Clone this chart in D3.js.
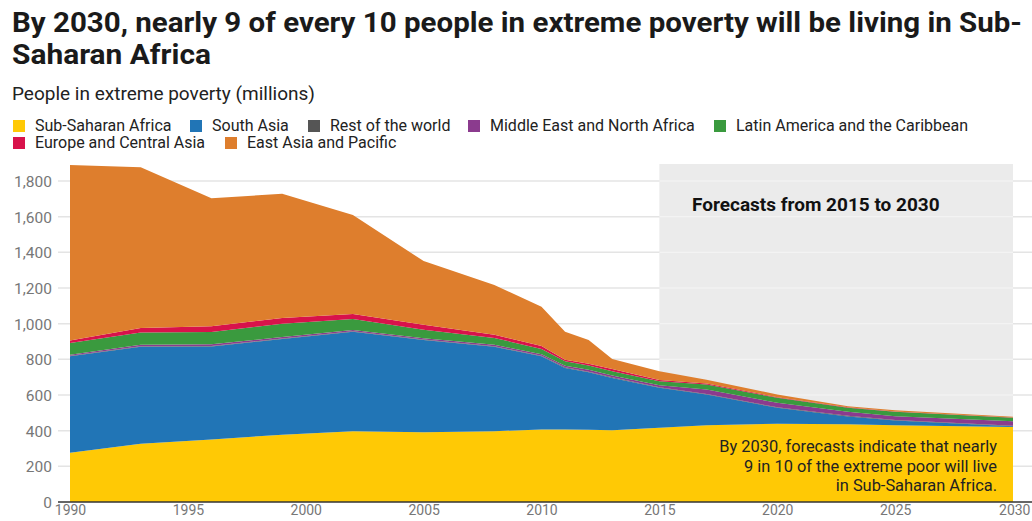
<!DOCTYPE html>
<html>
<head>
<meta charset="utf-8">
<script src="https://cdn.jsdelivr.net/npm/d3@7"></script>
<style>
  body { margin: 0; background: #fff; }
  svg { display: block; font-family: Roboto, "Noto Sans", sans-serif; }
</style>
</head>
<body>
<svg id="chart" width="1032" height="521"></svg>
<script>
const WIDTH = 1032;
const HEIGHT = 521;
const MARGIN = { top: 181, right: 19, bottom: 19, left: 70 };

const years = [1990, 1993, 1996, 1999, 2002, 2005, 2008, 2010, 2011, 2012, 2013, 2015, 2017, 2020, 2023, 2025, 2030];

// millions of people
const subSaharanAfrica = [276, 327, 351, 377, 397, 391, 397, 407, 406, 405, 403, 416, 431, 439, 436, 431, 420];
const southAsia = [541, 543, 521, 537, 558, 517, 473, 410, 346, 323, 293, 224, 172, 89, 44, 26, 5];
const restOfWorld = [3, 3, 3, 3, 3, 3, 3, 3, 3, 3, 3, 3, 3, 3, 3, 3, 3];
const middleEast = [6, 9, 10, 8, 6, 7, 9, 8, 9, 10, 11, 12, 25, 25, 23, 21, 25];
const latinAmerica = [66, 69, 68, 75, 62, 48, 38, 30, 25, 24, 23, 22, 28, 28, 23, 25, 19];
const europeCentralAsia = [14, 25, 32, 32, 28, 28, 18, 17, 9, 10, 13, 7, 5, 4, 3, 2, 2];
const eastAsiaPacific = [984, 901, 718, 697, 555, 357, 279, 220, 157, 133, 56, 49, 22, 15, 5, 7, 4];

const seriesNames = [
  "Sub-Saharan Africa", "South Asia", "Rest of the world", "Middle East and North Africa",
  "Latin America and the Caribbean", "Europe and Central Asia", "East Asia and Pacific"
];
const seriesValues = [subSaharanAfrica, southAsia, restOfWorld, middleEast, latinAmerica, europeCentralAsia, eastAsiaPacific];
const COLORS = ["#ffc905", "#2175b6", "#555555", "#8b3b8e", "#3a9a3e", "#d8124b", "#de7e2d"];

const yTicks = [0, 200, 400, 600, 800, 1000, 1200, 1400, 1600, 1800];
const xTicks = [1990, 1995, 2000, 2005, 2010, 2015, 2020, 2025, 2030];
const forecastStart = 2015;

const rows = years.map((year, i) => {
  const row = { year };
  seriesNames.forEach((name, k) => (row[name] = seriesValues[k][i]));
  return row;
});

const svg = d3.select("#chart");

const x = d3.scaleLinear().domain([1990, 2030]).range([MARGIN.left, WIDTH - MARGIN.right]);
const y = d3.scaleLinear().domain([0, 1800]).range([HEIGHT - MARGIN.bottom, MARGIN.top]);
const color = d3.scaleOrdinal().domain(seriesNames).range(COLORS);

// title
const title = svg.append("text")
  .attr("font-size", 27)
  .attr("font-weight", 700)
  .attr("fill", "#1a1a1a");
title.append("tspan").attr("x", 12).attr("y", 32)
  .attr("textLength", 1010).attr("lengthAdjust", "spacingAndGlyphs")
  .text("By 2030, nearly 9 of every 10 people in extreme poverty will be living in Sub-");
title.append("tspan").attr("x", 12).attr("y", 64)
  .attr("textLength", 199).attr("lengthAdjust", "spacingAndGlyphs")
  .text("Saharan Africa");

svg.append("text")
  .attr("x", 12).attr("y", 100)
  .attr("font-size", 19)
  .attr("fill", "#222")
  .text("People in extreme poverty (millions)");

// legend
const legendRows = [[0, 1, 2, 3, 4], [5, 6]];
const legendX = [[13, 190, 308, 468, 714], [13, 225]];
legendRows.forEach((row, r) => {
  row.forEach((k, j) => {
    const g = svg.append("g").attr("transform", `translate(${legendX[r][j]},${131 + r * 17})`);
    g.append("rect").attr("x", 0).attr("y", -11).attr("width", 12).attr("height", 12)
      .attr("fill", COLORS[k]);
    g.append("text").attr("x", 22).attr("y", 0)
      .attr("font-size", 16).attr("fill", "#222").text(seriesNames[k]);
  });
});

// forecast background
svg.append("rect")
  .attr("x", x(forecastStart))
  .attr("y", MARGIN.top - 17)
  .attr("width", x(2030) - x(forecastStart))
  .attr("height", y(0) - MARGIN.top + 17)
  .attr("fill", "#ebebeb");

// grid
svg.append("g")
  .selectAll("line")
  .data(yTicks.filter((d) => d > 0))
  .join("line")
  .attr("x1", 58).attr("x2", WIDTH)
  .attr("y1", (d) => y(d)).attr("y2", (d) => y(d))
  .attr("stroke", "#e4e4e4").attr("stroke-width", 1.5);
svg.append("g")
  .selectAll("line")
  .data(yTicks.filter((d) => d > 0))
  .join("line")
  .attr("x1", x(forecastStart)).attr("x2", x(2030))
  .attr("y1", (d) => y(d)).attr("y2", (d) => y(d))
  .attr("stroke", "#f3f3f3").attr("stroke-width", 1.5);

// stacked areas
const stack = d3.stack().keys(seriesNames);
const area = d3.area()
  .x((d) => x(d.data.year))
  .y0((d) => y(d[0]))
  .y1((d) => y(d[1]));

svg.append("g")
  .selectAll("path")
  .data(stack(rows))
  .join("path")
  .attr("d", area)
  .attr("fill", (d) => color(d.key));

// axes
const yAxis = svg.append("g")
  .attr("transform", `translate(52,0)`)
  .call(d3.axisLeft(y).tickValues(yTicks).tickSize(0).tickFormat(d3.format(",")));
yAxis.select(".domain").remove();
yAxis.selectAll("text").attr("font-size", 15.5).attr("fill", "#777").attr("font-family", "Roboto")
  .attr("x", 0).attr("dy", "0.35em");

svg.append("line")
  .attr("x1", 58).attr("x2", WIDTH)
  .attr("y1", y(0)).attr("y2", y(0))
  .attr("stroke", "#333").attr("stroke-width", 1.5);

const xAxis = svg.append("g")
  .attr("transform", `translate(0,${y(0)})`)
  .call(d3.axisBottom(x).tickValues(xTicks).tickSize(0).tickFormat(d3.format("d")));
xAxis.select(".domain").remove();
xAxis.selectAll("text").attr("font-size", 14).attr("fill", "#777").attr("font-family", "Roboto")
  .attr("y", 13).attr("dy", 0);
xAxis.selectAll("text").filter((d) => d === 2030).attr("text-anchor", "end").attr("x", 17);

// annotations
svg.append("text")
  .attr("x", 692).attr("y", 211)
  .attr("font-size", 19).attr("font-weight", 700).attr("fill", "#111")
  .text("Forecasts from 2015 to 2030");

const note = svg.append("text")
  .attr("text-anchor", "end")
  .attr("font-size", 16.4).attr("fill", "#222");
["By 2030, forecasts indicate that nearly", "9 in 10 of the extreme poor will live", "in Sub-Saharan Africa."]
  .forEach((line, i) => {
    note.append("tspan").attr("x", 997).attr("y", 452 + i * 19.5).text(line);
  });
</script>
</body>
</html>
